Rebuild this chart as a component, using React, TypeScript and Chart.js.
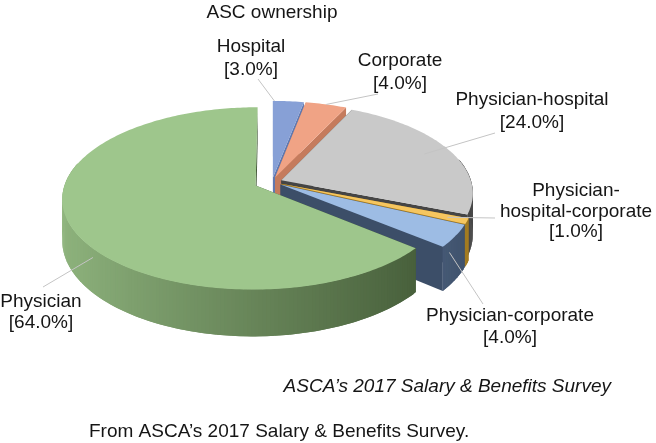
import { useEffect, useRef } from 'react';
import Chart from 'chart.js/auto';

// ASC ownership shares (%)
const categories = ['Hospital', 'Corporate', 'Physician-hospital', 'Physician-hospital-corporate', 'Physician-corporate', 'Physician'];
const shares = [3.0, 4.0, 24.0, 1.0, 4.0, 64.0];
const labelLines = [['Hospital'], ['Corporate'], ['Physician-hospital'], ['Physician-', 'hospital-corporate'], ['Physician-corporate'], ['Physician']];

const topColors = ['#87a0d6', '#f0a385', '#c9c9c9', '#f6c65f', '#9dbce4', '#9ec68c'];
const sideColors = ['#5f78b0', '#c57b5d', '#454545', '#a07820', '#3c4e68', '#3f5533'];
const explode = [10, 10, 10, 10, 10, 18];

// where each data label sits, and where its leader line meets the slice
const labelLayout = [
  { x: 251, y: 52, lh: 23, lead: [258, 79], t: 0.05, r: 1, d: 0 },
  { x: 400, y: 66, lh: 23, lead: [378, 94], t: 0.5, r: 1, d: 0 },
  { x: 532, y: 105, lh: 23, lead: [495, 133], t: 0.5, r: 0.85, d: 0 },
  { x: 576, y: 196, lh: 20.7, lead: [495, 218], t: 0.5, r: 0.9, d: 0 },
  { x: 510, y: 321, lh: 22, lead: [483, 304], t: 0.75, r: 1, d: 0.25 },
  { x: 41, y: 307, lh: 21, lead: [43, 287], t: 0.436, r: 1, d: 0.2 },
];

const FONT = '"Liberation Sans", Arial, Helvetica, sans-serif';

function hexRgb(h: string) {
  const n = parseInt(h.slice(1), 16);
  return [(n >> 16) & 255, (n >> 8) & 255, n & 255];
}
function mix(a: string, b: string, t: number) {
  const A = hexRgb(a), B = hexRgb(b);
  const c = A.map((v, i) => Math.round(v + (B[i] - v) * t));
  return `rgb(${c[0]},${c[1]},${c[2]})`;
}

const pie3d = {
  id: 'pie3d',
  beforeDatasetsDraw() {
    return false; // the flat arcs are replaced by the 3D drawing below
  },
  afterDraw(chart: any, _args: any, opts: any) {
    const ctx: CanvasRenderingContext2D = chart.ctx;
    const arcs = chart.getDatasetMeta(0).data as any[];
    const { tilt, persp, depth } = opts;

    const slices = arcs.map((arc, i) => {
      const { x, y, startAngle, endAngle, outerRadius } = arc.getProps(['x', 'y', 'startAngle', 'endAngle', 'outerRadius'], true);
      const o = arc.options;
      const mid = (startAngle + endAngle) / 2;
      const ox = (o.offset || 0) * Math.cos(mid);
      const oy = (o.offset || 0) * Math.sin(mid);
      const n = Math.max(2, Math.ceil((endAngle - startAngle) / (Math.PI / 180)));
      const rim: { X: number; Y: number; a: number }[] = [];
      for (let k = 0; k <= n; k++) {
        const a = startAngle + ((endAngle - startAngle) * k) / n;
        rim.push({ X: ox + outerRadius * Math.cos(a), Y: oy + outerRadius * Math.sin(a), a });
      }
      const front = Math.max(...rim.map(p => p.Y));
      return { i, x, y, R: outerRadius, ox, oy, rim, front, start: startAngle, end: endAngle, top: o.backgroundColor, side: o.borderColor };
    });

    const P = (s: any, X: number, Y: number, d: number) => {
      const f = 1 / (1 - (persp * Y) / s.R);
      return [s.x + X * f, s.y + (Y * tilt + d) * f];
    };
    const poly = (pts: number[][], fill: string) => {
      ctx.beginPath();
      pts.forEach((p, k) => (k ? ctx.lineTo(p[0], p[1]) : ctx.moveTo(p[0], p[1])));
      ctx.closePath();
      ctx.fillStyle = fill;
      ctx.fill();
    };

    ctx.save();
    [...slices].sort((a, b) => a.front - b.front).forEach(s => {
      const c0 = [s.ox, s.oy];
      const rim = s.rim;
      const first = rim[0], last = rim[rim.length - 1];
      // radial walls
      [first, last].forEach(p => {
        poly([P(s, c0[0], c0[1], 0), P(s, p.X, p.Y, 0), P(s, p.X, p.Y, depth), P(s, c0[0], c0[1], depth)], s.side);
      });
      // curved outer wall, shaded from the left; quads overlap to hide seams
      for (let k = 0; k < rim.length - 1; k++) {
        const p = rim[k], q = rim[Math.min(k + 2, rim.length - 1)];
        const am = (rim[k].a + rim[k + 1].a) / 2;
        if (Math.sin(am) < -0.25) continue;
        const t = 0.85 * (0.5 - 0.5 * Math.cos(am));
        poly([P(s, p.X, p.Y, -0.3), P(s, q.X, q.Y, -0.3), P(s, q.X, q.Y, depth), P(s, p.X, p.Y, depth)], mix(s.side, s.top, t));
      }
      // top face
      poly([P(s, c0[0], c0[1], 0), ...rim.map(p => P(s, p.X, p.Y, 0))], s.top);
    });

    // data labels with leader lines
    ctx.font = `19px ${FONT}`;
    ctx.textAlign = 'center';
    ctx.textBaseline = 'alphabetic';
    opts.labels.forEach((L: any, i: number) => {
      const s = slices[i];
      const a = s.start + (s.end - s.start) * L.t;
      const anchor = P(s, s.ox + s.R * L.r * Math.cos(a), s.oy + s.R * L.r * Math.sin(a), depth * L.d);
      ctx.beginPath();
      ctx.moveTo(L.lead[0], L.lead[1]);
      ctx.lineTo(anchor[0], anchor[1]);
      ctx.strokeStyle = '#c4c4c4';
      ctx.lineWidth = 1;
      ctx.stroke();
      ctx.fillStyle = '#151515';
      const lines = [...labelLines[i], `[${shares[i].toFixed(1)}%]`];
      lines.forEach((txt, k) => ctx.fillText(txt, L.x, L.y + k * L.lh));
    });

    // title and source notes
    ctx.fillStyle = '#151515';
    ctx.textAlign = 'center';
    ctx.fillText(opts.title, 272, 18);
    ctx.font = `italic 19px ${FONT}`;
    ctx.textAlign = 'right';
    ctx.fillText(opts.source, 611, 392);
    ctx.font = `19px ${FONT}`;
    ctx.textAlign = 'left';
    ctx.fillText(opts.caption, 89, 437);
    ctx.restore();
  },
};

export default function App() {
  const canvasRef = useRef<HTMLCanvasElement>(null);

  useEffect(() => {
    if (!canvasRef.current) return;
    const chart = new Chart(canvasRef.current, {
      type: 'pie',
      data: {
        labels: categories,
        datasets: [
          {
            data: shares,
            backgroundColor: topColors,
            borderColor: sideColors,
            offset: explode,
            radius: 190,
          } as any,
        ],
      },
      options: {
        animation: false,
        responsive: true,
        maintainAspectRatio: false,
        events: [],
        layout: { padding: { left: 0, right: 112, top: 0, bottom: 79 } },
        plugins: {
          legend: { display: false },
          tooltip: { enabled: false },
          pie3d: {
            tilt: 0.465,
            persp: 0.14,
            depth: 40,
            labels: labelLayout,
            title: 'ASC ownership',
            source: 'ASCA\u2019s 2017 Salary & Benefits Survey',
            caption: 'From ASCA\u2019s 2017 Salary & Benefits Survey.',
          },
        } as any,
      },
      plugins: [pie3d as any],
    });
    return () => chart.destroy();
  }, []);

  return (
    <div style={{ position: 'fixed', left: 0, top: 0, width: 656, height: 443, background: '#fff' }}>
      <canvas ref={canvasRef} />
    </div>
  );
}
